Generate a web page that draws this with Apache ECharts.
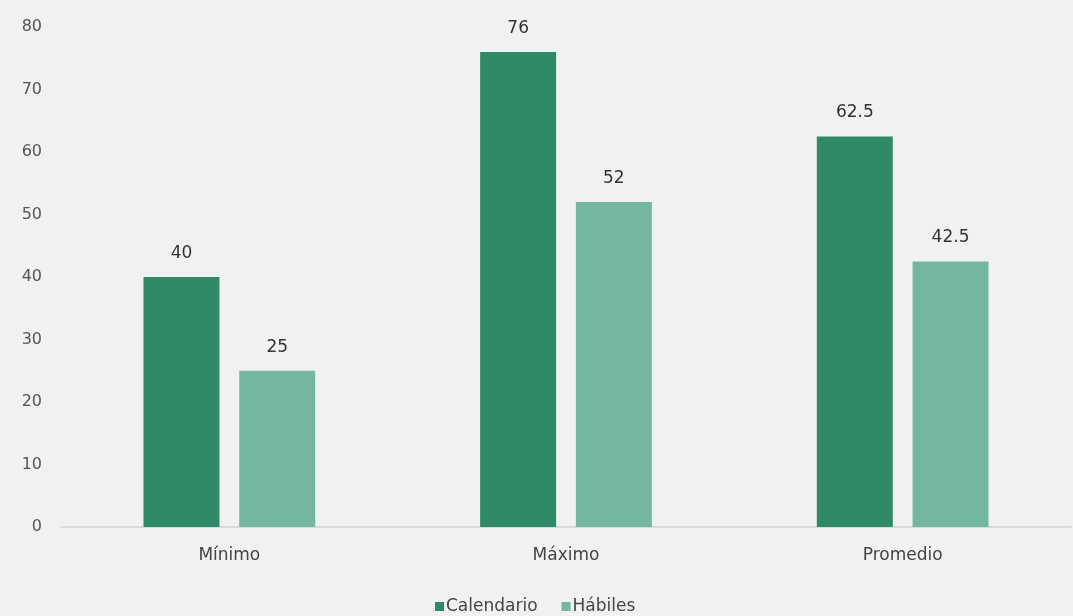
<!DOCTYPE html>
<html>
<head>
<meta charset="utf-8">
<script src="https://cdn.jsdelivr.net/npm/echarts@6/dist/echarts.min.js"></script>
<style>
  html, body { margin: 0; padding: 0; background: #f0f1f3; }
  #chart { width: 1073px; height: 616px; }
</style>
</head>
<body>
<div id="chart"></div>
<script>
const categories = ["Mínimo", "Máximo", "Promedio"];
const calendario = [40, 76, 62.5];
const habiles = [25, 52, 42.5];

const chart = echarts.init(document.getElementById("chart"));
const font = "DejaVu Sans, sans-serif";
const labelStyle = {
  show: true,
  position: "top",
  distance: 15,
  color: "#333",
  fontSize: 17,
  fontFamily: font,
};
chart.setOption({
  backgroundColor: "#f0f1f3",
  textStyle: { fontFamily: font },
  grid: { left: 61, right: 2, top: 27, bottom: 89 },
  legend: {
    left: 430,
    top: 593,
    itemWidth: 9,
    itemHeight: 9,
    itemGap: 24,
    icon: "rect",
    textStyle: { color: "#444", fontSize: 17, fontFamily: font, padding: [0, 0, 0, -3] },
    data: ["Calendario", "Hábiles"],
  },
  xAxis: {
    type: "category",
    data: categories,
    axisLine: { lineStyle: { color: "#cfd1d3", width: 1.5 } },
    axisTick: { show: false },
    axisLabel: { color: "#444", fontSize: 17, margin: 20 },
  },
  yAxis: {
    type: "value",
    min: 0,
    max: 80,
    interval: 10,
    splitLine: { show: false },
    axisLine: { show: false },
    axisTick: { show: false },
    axisLabel: { color: "#555", fontSize: 16, margin: 19 },
  },
  series: [
    {
      name: "Calendario",
      type: "bar",
      data: calendario,
      barGap: "26%",
      barCategoryGap: "49%",
      itemStyle: { color: "#2e8a67" },
      label: labelStyle,
    },
    {
      name: "Hábiles",
      type: "bar",
      data: habiles,
      itemStyle: { color: "#73b7a3" },
      label: labelStyle,
    },
  ],
});
</script>
</body>
</html>
